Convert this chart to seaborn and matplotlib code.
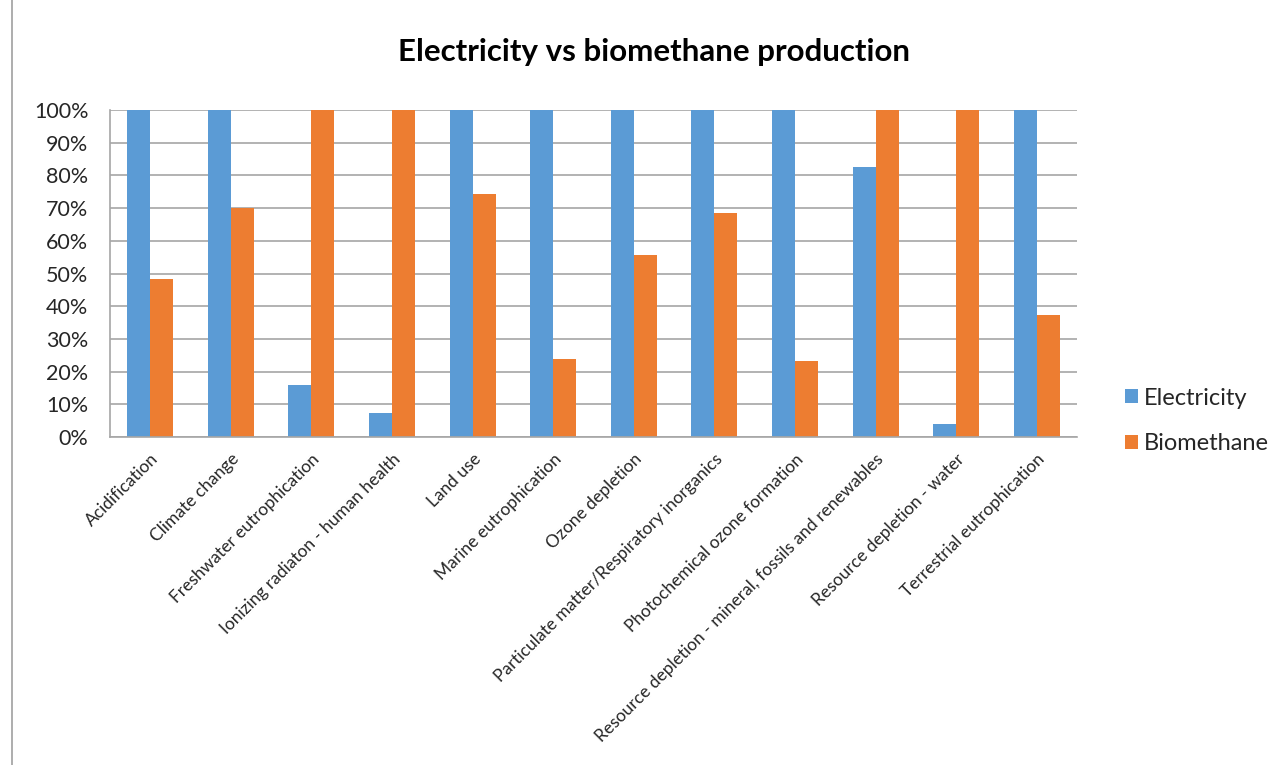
"""
Electricity vs biomethane production - relative impact per category.
"""

import numpy as np
import pandas as pd
import matplotlib
matplotlib.use("Agg")
import matplotlib.pyplot as plt
from matplotlib.lines import Line2D
from matplotlib.ticker import PercentFormatter
import seaborn as sns

# ── data ──────────────────────────────────────────
categories = [
    "Acidification",
    "Climate change",
    "Freshwater eutrophication",
    "Ionizing radiaton - human health",
    "Land use",
    "Marine eutrophication",
    "Ozone depletion",
    "Particulate matter/Respiratory inorganics",
    "Photochemical ozone formation",
    "Resource depletion - mineral, fossils and renewables",
    "Resource depletion - water",
    "Terrestrial eutrophication",
]
electricity = [1.00, 1.00, 0.16, 0.072, 1.00, 1.00, 1.00, 1.00, 1.00, 0.825, 0.04, 1.00]
biomethane  = [0.483, 0.70, 1.00, 1.00, 0.743, 0.239, 0.557, 0.685, 0.232, 1.00, 1.00, 0.372]
series      = ["Electricity", "Biomethane"]
colors      = ["#5B9BD5", "#ED7D31"]

df = pd.DataFrame({
    "category": categories * 2,
    "series":   [series[0]] * len(categories) + [series[1]] * len(categories),
    "value":    electricity + biomethane,
})

# ── style ─────────────────────────────────────────
sns.set_theme(style="white")
plt.rcParams["font.family"] = ["Lato", "DejaVu Sans"]
GRID = "#A6A6A6"
TXT  = "#262626"

fig = plt.figure(figsize=(12.85, 7.65), dpi=100)
ax  = fig.add_axes([110 / 1285, 1 - 437 / 765, (1077 - 110) / 1285, (437 - 110) / 765])

sns.barplot(data=df, x="category", y="value", hue="series", order=categories,
            hue_order=series, palette=colors, width=0.57, gap=0,
            saturation=1, edgecolor="none", linewidth=0, ax=ax)

ax.set_ylim(0, 1.0)
ax.set_xlim(-0.5, len(categories) - 0.5)
ax.set_yticks(np.arange(0, 1.01, 0.1))
ax.yaxis.set_major_formatter(PercentFormatter(1.0, decimals=0))
ax.set_xlabel(""); ax.set_ylabel("")

# gridlines + spines
ax.set_axisbelow(True)
ax.yaxis.grid(True, color=GRID, lw=1.2)
ax.xaxis.grid(False)
for s in ["top", "right"]:
    ax.spines[s].set_visible(False)
for s in ["left", "bottom"]:
    ax.spines[s].set_color(GRID)
    ax.spines[s].set_linewidth(1.2)

# x ticks at category boundaries, labels at centres
ax.set_xticks(np.arange(len(categories)))
ax.set_xticks(np.arange(-0.5, len(categories)), minor=True)
ax.tick_params(axis="x", which="major", length=0, pad=10)
ax.tick_params(axis="x", which="minor", length=6, color=GRID, width=1.2, direction="out")
ax.tick_params(axis="y", length=6.5, color=GRID, width=1.2, direction="out",
               labelsize=15.5, labelcolor=TXT, pad=9)
ax.set_xticklabels(categories, rotation=45, ha="right", rotation_mode="anchor",
                   fontsize=12.5, color=TXT)

# legend
ax.legend(handles=ax.get_legend_handles_labels()[0], labels=series,
          loc="center left", bbox_to_anchor=(1125 / 1285, 1 - 421 / 765),
          bbox_transform=fig.transFigure, frameon=False, fontsize=17,
          handlelength=0.55, handleheight=0.55, handletextpad=0.25,
          borderpad=0, borderaxespad=0, labelspacing=1.05, labelcolor=TXT)

fig.text(654 / 1285, 1 - 52 / 765, "Electricity vs biomethane production",
         ha="center", va="center", fontsize=22.5, fontweight="bold", color="#000000")

# chart border on the left
fig.add_artist(Line2D([12 / 1285, 12 / 1285], [0, 1], color="#A0A0A0", lw=1.2))

plt.savefig("out.png", dpi=100)
plt.close()
